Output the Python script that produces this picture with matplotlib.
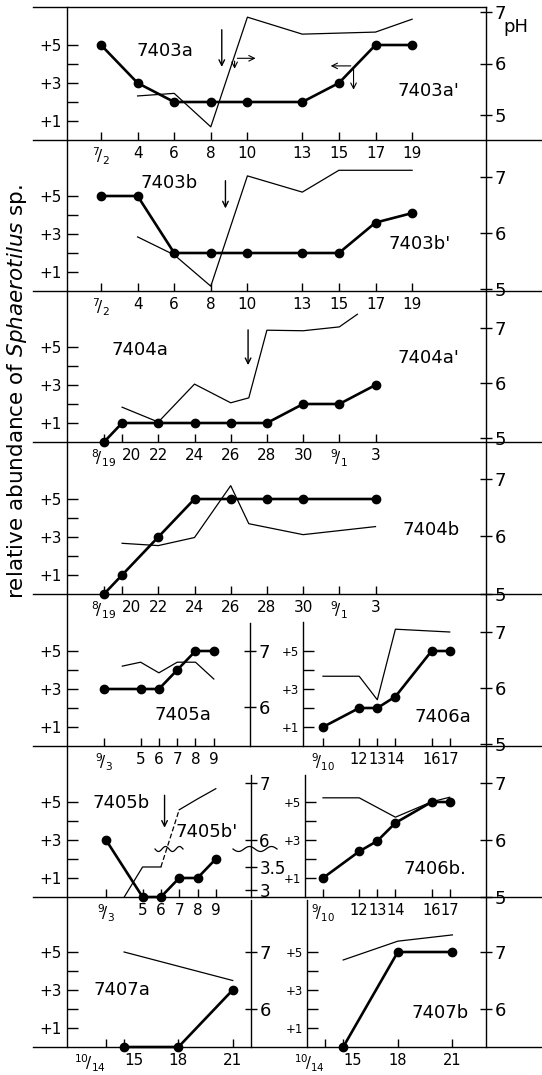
import numpy as np
import matplotlib.pyplot as plt
from matplotlib.lines import Line2D

W, H = 542, 1075
plt.rcParams['font.family'] = 'DejaVu Sans'
plt.rcParams['mathtext.fontset'] = 'dejavusans'

# ---- data (day number, abundance score, pH) ----
days_7403 = [2, 4, 6, 8, 10, 13, 15, 17, 19]
labels_7403 = ['7/2', '4', '6', '8', '10', '13', '15', '17', '19']
abund_7403a = [5, 3, 2, 2, 2, 2, 3, 5, 5]
ph_days_7403a = [4, 6, 8, 10, 13, 17, 19]
ph_7403a = [5.37, 5.42, 4.77, 6.90, 6.57, 6.61, 6.86]
abund_7403b = [5, 5, 2, 2, 2, 2, 2, 3.6, 4.1]
ph_days_7403b = [4, 6, 8, 10, 13, 15, 19]
ph_7403b = [5.93, 5.61, 5.05, 7.02, 6.73, 7.12, 7.12]

days_7404 = [19, 20, 22, 24, 26, 28, 30, 32, 34]
labels_7404 = ['8/19', '20', '22', '24', '26', '28', '30', '9/1', '3']
abund_7404a = [0, 1, 1, 1, 1, 1, 2, 2, 3]
ph_days_7404a = [20, 22, 24, 26, 27, 28, 30, 32, 33]
ph_7404a = [5.56, 5.29, 5.98, 5.64, 5.73, 6.96, 6.95, 7.02, 7.25]
abund_days_7404b = [19, 20, 22, 24, 26, 28, 30, 34]
abund_7404b = [0, 1, 3, 5, 5, 5, 5, 5]
ph_days_7404b = [20, 22, 24, 26, 27, 30, 34]
ph_7404b = [5.88, 5.84, 5.98, 6.88, 6.22, 6.03, 6.17]

days_7405 = [3, 5, 6, 7, 8, 9]
labels_7405 = ['9/3', '5', '6', '7', '8', '9']
abund_7405a = [3, 3, 3, 4, 5, 5]
ph_days_7405a = [4, 5, 6, 7, 8, 9]
ph_7405a = [6.73, 6.80, 6.61, 6.80, 6.80, 6.50]
abund_7405b = [3, 0, 0, 1, 1, 2]
ph_days_7405b = [4, 5, 6, 7, 8, 9]
ph_7405b = [2.85, 3.5, 3.5, 6.53, 6.72, 6.90]

days_7406 = [10, 12, 13, 14, 16, 17]
labels_7406 = ['9/10', '12', '13', '14', '16', '17']
abund_7406a = [1, 2, 2, 2.6, 5, 5]
ph_days_7406a = [10, 12, 13, 14, 17]
ph_7406a = [6.21, 6.21, 5.79, 7.05, 7.00]
abund_7406b = [1, 2.4, 2.95, 3.9, 5, 5]
ph_days_7406b = [10, 12, 14, 16, 17]
ph_7406b = [6.74, 6.74, 6.40, 6.67, 6.75]

days_7407 = [14, 15, 18, 21]
labels_7407 = ['10/14', '15', '18', '21']
abund_days_7407 = [15, 18, 21]
abund_7407a = [0, 0, 3]
ph_days_7407a = [15, 21]
ph_7407a = [7.0, 6.5]
abund_7407b = [0, 5, 5]
ph_days_7407b = [15, 18, 21]
ph_7407b = [6.86, 7.19, 7.30]

fig = plt.figure(figsize=(W / 100, H / 100), dpi=100)


def frac(s):
    if '/' not in s:
        return s
    a, b = s.split('/')
    return r'$^{%s}\!/_{%s}$' % (a, b)


def fig_line(xs, ys, lw=1.0):
    fig.add_artist(Line2D([x / W for x in xs], [1 - y / H for y in ys],
                          color='black', lw=lw))


def panel(x0, y0, x1, y1, day_ref, x_ref, ppd, ph7_px, ph_unit,
          ticks, ticklabels, ph_ticks, small=False):
    ax = fig.add_axes([x0 / W, 1 - y1 / H, (x1 - x0) / W, (y1 - y0) / H])
    ax.set_xlim(day_ref - (x_ref - x0) / ppd, day_ref + (x1 - x_ref) / ppd)
    ax.set_ylim(0, (y1 - y0) / 19.0)
    ax2 = ax.twinx()
    ph_bot = 7 - (y1 - ph7_px) / ph_unit
    ax2.set_ylim(ph_bot, ph_bot + (y1 - y0) / ph_unit)
    for a in (ax, ax2):
        for s in a.spines.values():
            s.set_visible(False)
        a.patch.set_visible(False)
    ax.set_xticks(ticks)
    ax.set_xticklabels([frac(t) for t in ticklabels])
    ax.tick_params(axis='x', direction='in', length=6, width=1,
                   labelsize=10.5 if small else 11, pad=4)
    ax.set_yticks([1, 2, 3, 4, 5])
    ax.set_yticklabels(['+1', '', '+3', '', '+5'])
    ax.tick_params(axis='y', direction='in', length=8, width=1,
                   labelsize=8.5 if small else 11, pad=3 if small else 4)
    ax2.set_yticks(ph_ticks)
    ax2.set_yticklabels([str(p) for p in ph_ticks])
    ax2.tick_params(axis='y', direction='inout', length=8, width=1, labelsize=13, pad=2)
    return ax, ax2


def abund(ax, d, v):
    ax.plot(d, v, color='black', lw=1.9, marker='o', ms=6, clip_on=False, zorder=5)


def ph(ax2, d, v, **kw):
    ax2.plot(d, v, color='black', lw=0.9, clip_on=False, **kw)


def arrow(ax, x, y_from, y_to):
    ax.annotate('', xy=(x, y_to), xytext=(x, y_from),
                arrowprops=dict(arrowstyle='->', lw=1.0, color='black'))


def squiggle(x0, x1, yc):
    xs = np.linspace(x0, x1, 60)
    ys = yc + 2.5 * np.sin((xs - x0) / (x1 - x0) * 4 * np.pi)
    fig_line(xs, ys, lw=0.9)


def split_first(ax):
    lbls = ax.get_xticklabels()
    lbls[1].set_horizontalalignment('left')


# ---- frame lines (hand-drawn grid of the figure) ----
fig_line([67, 67], [7, 1047])
fig_line([486, 486], [7, 1047])
fig_line([33, 486], [7, 7])
for yb in [140, 291, 442, 594, 746, 897, 1047]:
    fig_line([33, 542], [yb, yb])
fig_line([250, 250], [623, 746])
fig_line([303, 303], [622, 746])
fig_line([251, 251], [775, 897])
fig_line([305, 305], [775, 897])
fig_line([251, 251], [900, 1047])
fig_line([307, 307], [900, 1047])

# ---- row 1: 7403a ----
ax, ax2 = panel(67, 7, 486, 140, 2, 101, 18.3, 12, 51.5, days_7403, labels_7403, [5, 6, 7])
abund(ax, days_7403, abund_7403a)
ph(ax2, ph_days_7403a, ph_7403a)
ax.text(5.5, 4.7, '7403a', fontsize=13, ha='center', va='center')
ax.text(19.9, 2.6, "7403a'", fontsize=13, ha='center', va='center')
arrow(ax, 8.6, 5.95, 3.7)
ax.annotate('', xy=(9.3, 3.6), xytext=(9.3, 4.3), arrowprops=dict(arrowstyle='->', lw=0.8))
ax.annotate('', xy=(10.6, 4.3), xytext=(9.3, 4.3), arrowprops=dict(arrowstyle='->', lw=0.8))
ax.annotate('', xy=(14.4, 3.9), xytext=(15.8, 3.9), arrowprops=dict(arrowstyle='->', lw=0.8))
ax.annotate('', xy=(15.8, 2.5), xytext=(15.8, 3.9), arrowprops=dict(arrowstyle='->', lw=0.8))
fig.text(503 / W, 1 - 27 / H, 'pH', fontsize=13, ha='left', va='center')

# ---- row 2: 7403b ----
ax, ax2 = panel(67, 140, 486, 291, 2, 101, 18.3, 177, 56, days_7403, labels_7403, [5, 6, 7])
abund(ax, days_7403, abund_7403b)
ph(ax2, ph_days_7403b, ph_7403b)
ax.text(5.7, 5.7, '7403b', fontsize=13, ha='center', va='center')
ax.text(19.4, 2.5, "7403b'", fontsize=13, ha='center', va='center')
arrow(ax, 8.8, 5.95, 4.2)

# ---- row 3: 7404a ----
ax, ax2 = panel(67, 291, 486, 442, 19, 104, 18.1, 328, 55, days_7404, labels_7404, [5, 6, 7])
abund(ax, days_7404, abund_7404a)
ph(ax2, ph_days_7404a, ph_7404a)
ax.text(21.0, 4.85, '7404a', fontsize=13, ha='center', va='center')
ax.text(36.9, 4.4, "7404a'", fontsize=13, ha='center', va='center')
arrow(ax, 26.96, 6.05, 3.9)
split_first(ax)

# ---- row 4: 7404b ----
ax, ax2 = panel(67, 442, 486, 594, 19, 104, 18.1, 479, 58, days_7404, labels_7404, [5, 6, 7])
abund(ax, abund_days_7404b, abund_7404b)
ph(ax2, ph_days_7404b, ph_7404b)
ax.text(37.1, 3.37, '7404b', fontsize=13, ha='center', va='center')
split_first(ax)

# ---- row 5: 7405a / 7406a ----
ax, ax2 = panel(67, 594, 250, 746, 3, 104, 18.3, 651, 56, days_7405, labels_7405, [6, 7])
abund(ax, days_7405, abund_7405a)
ph(ax2, ph_days_7405a, ph_7405a)
ax.text(7.3, 1.63, '7405a', fontsize=13, ha='center', va='center')

ax, ax2 = panel(303, 594, 486, 746, 10, 323, 18.1, 632, 56, days_7406, labels_7406, [5, 6, 7], small=True)
abund(ax, days_7406, abund_7406a)
ph(ax2, ph_days_7406a, ph_7406a)
ax.text(16.6, 1.53, '7406a', fontsize=13, ha='center', va='center')

# ---- row 6: 7405b (broken pH axis) / 7406b ----
ax, ax2 = panel(67, 746, 251, 897, 3, 106, 18.3, 783, 57, days_7405, labels_7405, [6, 7])


def broken(p):
    p = np.asarray(p, dtype=float)
    return np.where(p >= 5.9, p, 5.123 + (p - 3) * 0.807)


bt = [3, 3.5, 6, 7]
ax2.set_yticks(broken(bt))
ax2.set_yticklabels(['3', '3.5', '6', '7'])
ax2.tick_params(axis='y', labelsize=12)
yb = broken(ph_7405b)
ph(ax2, ph_days_7405b[:3], yb[:3])
ph(ax2, ph_days_7405b[2:4], yb[2:4], ls=(0, (4, 2)))
ph(ax2, ph_days_7405b[3:], yb[3:])
abund(ax, days_7405, abund_7405b)
ax.text(3.8, 4.95, '7405b', fontsize=13, ha='center', va='center')
ax.text(8.5, 3.4, "7405b'", fontsize=13, ha='center', va='center')
arrow(ax, 6.2, 5.5, 3.5)
squiggle(155, 183, 849)
squiggle(233, 277, 849)

ax, ax2 = panel(305, 746, 486, 897, 10, 323, 18.1, 783, 57, days_7406, labels_7406, [5, 6, 7], small=True)
abund(ax, days_7406, abund_7406b)
ph(ax2, ph_days_7406b, ph_7406b)
ax.text(16.2, 1.5, '7406b.', fontsize=13, ha='center', va='center')

# ---- row 7: 7407a / 7407b ----
ax, ax2 = panel(67, 897, 251, 1047, 14, 106, 18.1, 952, 57, days_7407, labels_7407, [6, 7])
abund(ax, abund_days_7407, abund_7407a)
ph(ax2, ph_days_7407a, ph_7407a)
ax.text(14.9, 3.0, '7407a', fontsize=13, ha='center', va='center')
ax.get_xticklabels()[0].set_horizontalalignment('right')
split_first(ax)

ax, ax2 = panel(307, 897, 486, 1047, 14, 325, 18.2, 952, 57, days_7407, labels_7407, [6, 7], small=True)
abund(ax, abund_days_7407, abund_7407b)
ph(ax2, ph_days_7407b, ph_7407b)
ax.text(20.3, 1.8, '7407b', fontsize=13, ha='center', va='center')
ax.get_xticklabels()[0].set_horizontalalignment('right')
split_first(ax)

fig.text(17 / W, 1 - 391 / H, r'relative abundance of $\mathit{Sphaerotilus}$ sp.',
         rotation=90, ha='center', va='center', fontsize=15.5)

fig.savefig('out.png', dpi=100)
